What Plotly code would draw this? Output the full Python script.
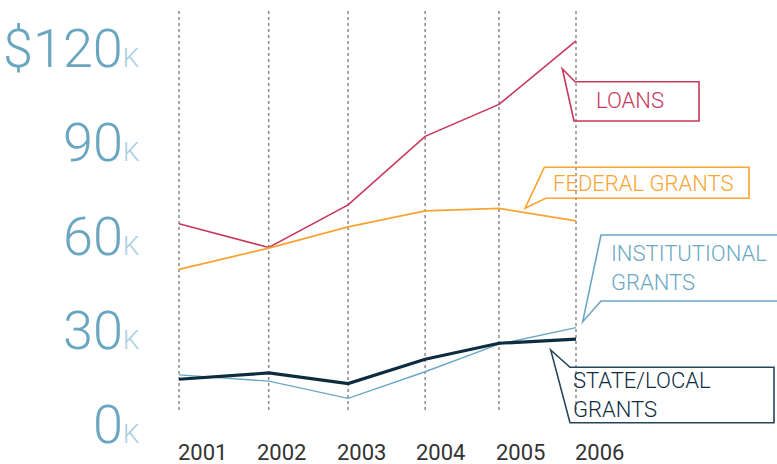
import plotly.graph_objects as go

# ---------------- data ----------------
years = [2001, 2002, 2003, 2004, 2005, 2006]
year_labels = ["2001", "2002", "2003", "2004", "2005", "2006"]
# horizontal position of each year's guide line, as drawn in the picture
year_pos = [2001.0, 2002.13, 2003.13, 2004.1, 2005.03, 2006.0]

loans = [64.0, 56.4, 70.0, 91.9, 102.1, 122.4]
federal_grants = [49.4, 56.2, 63.0, 68.1, 68.9, 64.9]
institutional_grants = [15.7, 13.7, 8.2, 16.7, 25.5, 30.8]
state_local_grants = [14.3, 16.3, 12.9, 20.7, 25.8, 27.1]

y_ticks = [0, 30, 60, 90, 120]
y_tick_labels = ["0", "30", "60", "90", "$120"]

# ---------------- layout constants ----------------
W, H = 777, 464
X0_PX, X_STEP = 179.0, 79.4      # px of 2001, px per year
Y0_PX, Y_STEP = 424.0, 3.13      # px of value 0, px per unit

x_range = [2001 - X0_PX / X_STEP, 2001 + (W - X0_PX) / X_STEP]
y_range = [-(H - Y0_PX) / Y_STEP, Y0_PX / Y_STEP]

C_LOANS = "#c8375e"
C_FED = "#f7a433"
C_INST = "#6aa7c4"
C_STATE = "#0e2c3f"
C_STATE_BOX = "#24465a"
C_YLAB = "#6aa6c0"
C_K = "#a8cfe0"
FONT = "Roboto"


def px(x, y):
    return x / W, 1 - y / H


fig = go.Figure()

series = [
    ("Loans", loans, C_LOANS, 1.6),
    ("Federal grants", federal_grants, C_FED, 1.8),
    ("Institutional grants", institutional_grants, C_INST, 1.4),
    ("State/local grants", state_local_grants, C_STATE, 3.2),
]
for name, vals, col, w in series:
    fig.add_trace(go.Scatter(
        x=year_pos, y=vals, mode="lines", name=name,
        line=dict(color=col, width=w), hoverinfo="x+y+name",
    ))

shapes = []
# dotted vertical guides
for xp in year_pos:
    shapes.append(dict(
        type="line", xref="x", yref="paper", x0=xp, x1=xp,
        y0=1 - 410 / H, y1=1 - 10 / H,
        line=dict(color="#8a8a8a", width=1.5, dash="dot"), layer="below",
    ))


def path(points, color, width=1.6):
    d = ""
    for i, (x, y) in enumerate(points):
        xp, yp = px(x, y)
        d += ("M" if i == 0 else "L") + f"{xp:.5f},{yp:.5f} "
    d += "Z"
    return dict(type="path", xref="paper", yref="paper", path=d,
                line=dict(color=color, width=width), fillcolor="rgba(255,255,255,0)")


shapes.append(path([(575, 81.7), (562.3, 68.7), (574, 121), (699, 121), (699, 81.7)], C_LOANS))
shapes.append(path([(544.3, 167.3), (749, 167.3), (749, 198.3), (545.7, 198.3), (525, 208.3)], C_FED))
shapes.append(path([(601, 235), (582.7, 321.7), (601, 301), (790, 301), (790, 235)], C_INST))
shapes.append(path([(550.7, 350), (570, 367.3), (774, 367.3), (774, 422.7), (570, 422.7)], C_STATE_BOX))

annotations = []
# y tick labels
for v, lab in zip(y_ticks, y_tick_labels):
    annotations.append(dict(
        xref="paper", yref="y", x=141 / W, y=v, xanchor="right", yanchor="middle",
        text=f"{lab}<span style='font-size:26px;color:{C_K}'>K</span>",
        showarrow=False, font=dict(family=FONT, size=54, color=C_YLAB, weight=300),
    ))
# x tick labels
for yr, lab in zip(years, year_labels):
    annotations.append(dict(
        xref="x", yref="paper", x=yr, y=1 - 452 / H, xanchor="left", yanchor="middle",
        text=lab, showarrow=False, xshift=-3,
        font=dict(family=FONT, size=22, color="#333333", weight=400),
    ))


def label(text, x, y, color, anchor="center"):
    xp, yp = px(x, y)
    annotations.append(dict(
        xref="paper", yref="paper", x=xp, y=yp, xanchor=anchor, yanchor="middle",
        text=text, showarrow=False, align="left",
        font=dict(family=FONT, size=22, color=color, weight=300),
    ))


label("LOANS", 630, 101, C_LOANS)
label("FEDERAL GRANTS", 643, 183.3, C_FED)
label("INSTITUTIONAL<br>GRANTS", 609, 267.5, C_INST, "left")
label("STATE/LOCAL<br>GRANTS", 571, 395, C_STATE, "left")

fig.update_layout(
    width=W, height=H,
    margin=dict(l=0, r=0, t=0, b=0),
    paper_bgcolor="white", plot_bgcolor="white",
    showlegend=False,
    xaxis=dict(range=x_range, visible=False, fixedrange=True),
    yaxis=dict(range=y_range, visible=False, fixedrange=True),
    shapes=shapes, annotations=annotations,
)

fig.write_html(
    "out.html",
    config={"displayModeBar": False},
    post_script="document.body.style.margin='0';document.body.style.overflow='hidden';",
)
